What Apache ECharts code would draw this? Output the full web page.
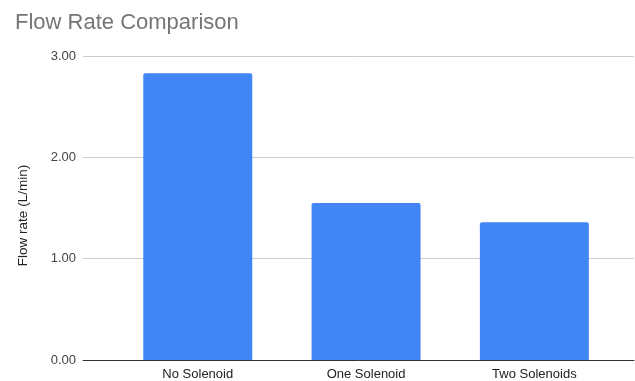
<!DOCTYPE html>
<html>
<head>
<meta charset="utf-8">
<script src="https://cdn.jsdelivr.net/npm/echarts@6/dist/echarts.min.js"></script>
<style>
  html, body { margin: 0; padding: 0; background: #fff; }
  #chart { width: 635px; height: 381px; }
</style>
</head>
<body>
<div id="chart"></div>
<script>
// Flow rate measured for each solenoid configuration
const categories = ['No Solenoid', 'One Solenoid', 'Two Solenoids'];
const flowRates = [2.83, 1.55, 1.36];
const yTicks = [0, 1, 2, 3];

const FONT = 'Liberation Sans, Arial, sans-serif';
const chart = echarts.init(document.getElementById('chart'), null, { renderer: 'canvas' });

// Bars sit at positions 0, 1, 2 on a numeric x axis so the gridlines can
// run the full plot width while the bars keep their own spacing.
const barData = flowRates.map((v, i) => [i, v]);

chart.setOption({
  animation: false,
  title: {
    text: 'Flow Rate Comparison',
    left: 10,
    top: 7,
    textStyle: {
      fontFamily: FONT,
      fontSize: 22,
      fontWeight: 'normal',
      color: '#757575'
    }
  },
  grid: { left: 83, right: 1, top: 56, bottom: 20, containLabel: false },
  xAxis: {
    type: 'value',
    min: -0.682,
    max: 2.592,
    splitLine: { show: false },
    axisTick: { show: false },
    axisLine: { show: true, onZero: false, lineStyle: { color: '#333333', width: 1 } },
    axisLabel: {
      customValues: categories.map((_, i) => i),
      formatter: v => categories[Math.round(v)] || '',
      color: '#222222',
      fontFamily: FONT,
      fontSize: 13,
      margin: 8
    }
  },
  yAxis: {
    type: 'value',
    min: yTicks[0],
    max: yTicks[yTicks.length - 1],
    interval: 1,
    name: 'Flow rate (L/min)',
    nameLocation: 'middle',
    nameGap: 53,
    nameTextStyle: {
      fontFamily: FONT,
      fontSize: 13.5,
      color: '#222222',
      padding: [0, 0, 0, -15]
    },
    axisLine: { show: false },
    axisTick: { show: false },
    axisLabel: {
      formatter: v => v.toFixed(2),
      color: '#444444',
      fontFamily: FONT,
      fontSize: 13,
      margin: 7
    },
    splitLine: { lineStyle: { color: '#cccccc', width: 1 } }
  },
  series: [{
    type: 'bar',
    data: barData,
    barWidth: 109,
    itemStyle: {
      color: '#4285f4',
      borderRadius: [2, 2, 0, 0]
    }
  }]
});
</script>
</body>
</html>
